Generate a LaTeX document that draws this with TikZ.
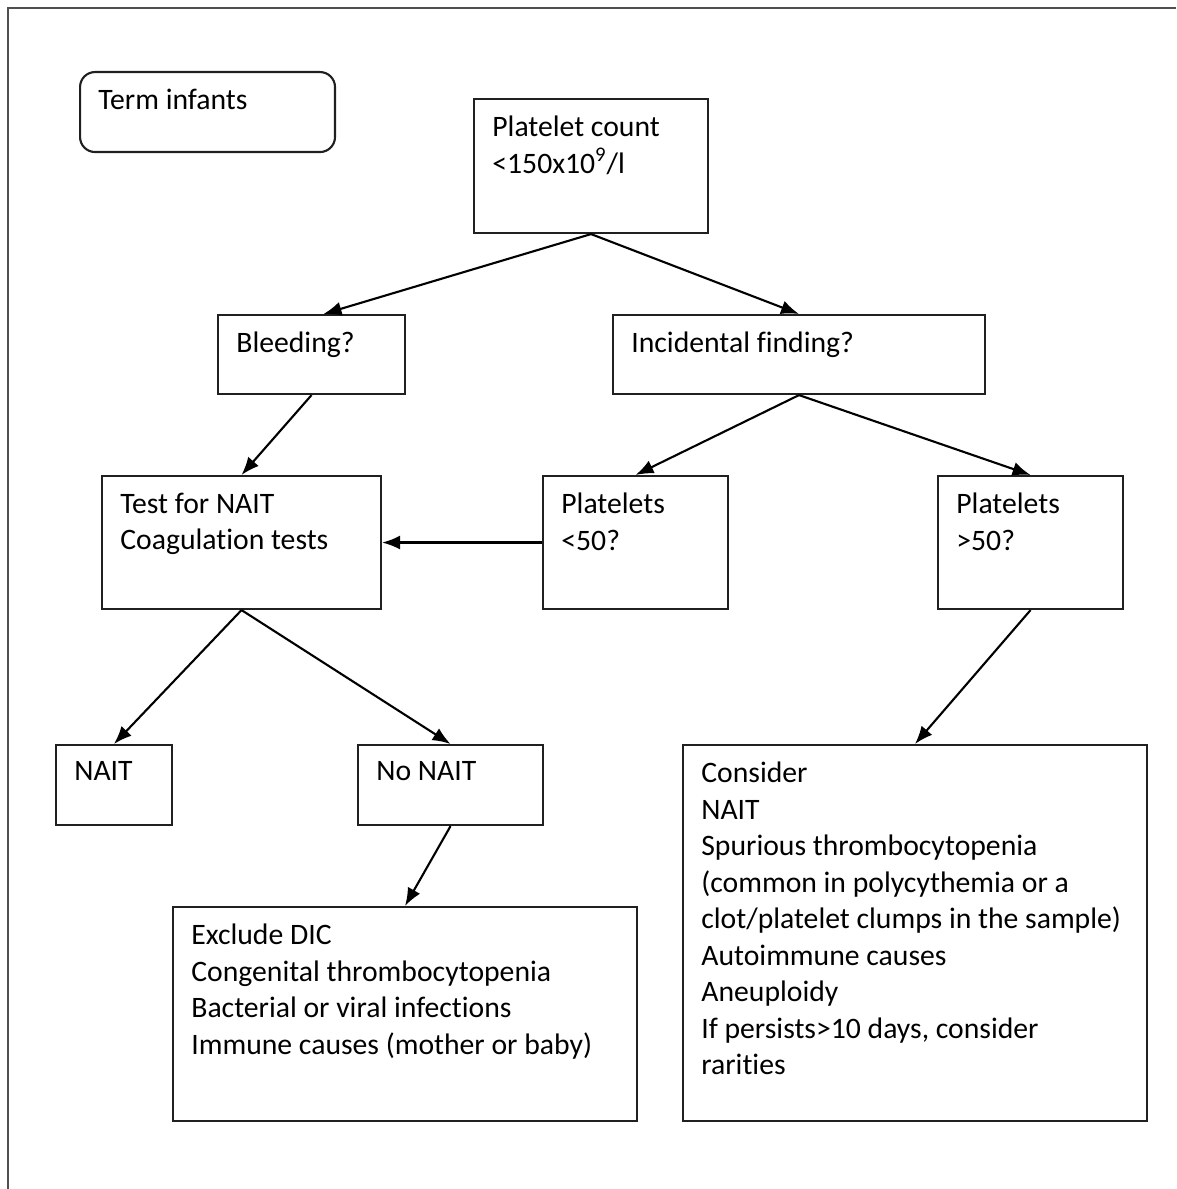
\documentclass[tikz,border=0pt]{standalone}
\usepackage{fontspec}
\setmainfont{Carlito}[Ligatures=CommonOff]
\usetikzlibrary{positioning}
\usetikzlibrary{arrows.meta}
\usetikzlibrary{calc}
\definecolor{framegray}{HTML}{505050}
\definecolor{linegray}{HTML}{202020}
\tikzset{flowbox/.style = {draw=linegray, rectangle, anchor=north west, inner sep=0pt, line width=1.2pt}}
\tikzset{boxtext/.style = {anchor=north west, align=left, inner sep=0pt,
                           xshift=0.38cm, yshift=-0.35cm,
                           font=\fontsize{16.9}{20.8}\selectfont}}
\tikzset{flowarrow/.style = {-{Latex[length=3.6mm,width=2.8mm]}, line width=1.2pt}}

\begin{document}
\begin{tikzpicture}[x=0.02cm, y=-0.02cm]
        \useasboundingbox (0,0) rectangle (1176,1189);
        \draw[line width=1.6pt, framegray] (1176,8) -- (8,8) -- (8,1189);
        % boxes
        \node[flowbox, rounded corners=0.3cm, minimum width=5.10cm, minimum height=1.60cm] (term) at (79,71) {};
        \node[flowbox, minimum width=4.68cm, minimum height=2.68cm] (plt) at (473,98) {};
        \node[flowbox, minimum width=3.74cm, minimum height=1.58cm] (bleed) at (217,314) {};
        \node[flowbox, minimum width=7.44cm, minimum height=1.58cm] (incid) at (612,314) {};
        \node[flowbox, minimum width=5.58cm, minimum height=2.66cm] (test) at (101,475) {};
        \node[flowbox, minimum width=3.70cm, minimum height=2.66cm] (lt50) at (542,475) {};
        \node[flowbox, minimum width=3.70cm, minimum height=2.66cm] (gt50) at (937,475) {};
        \node[flowbox, minimum width=2.32cm, minimum height=1.60cm] (nait) at (55,744) {};
        \node[flowbox, minimum width=3.70cm, minimum height=1.60cm] (nonait) at (357,744) {};
        \node[flowbox, minimum width=9.28cm, minimum height=4.28cm] (excl) at (172,906) {};
        \node[flowbox, minimum width=9.28cm, minimum height=7.52cm] (consid) at (682,744) {};
        % texts
        \node[boxtext] (termT) at (term.north west) {Term infants};
        \node[boxtext] (pltT) at (plt.north west) {Platelet count\\<150x10\textsuperscript{9}/l};
        \node[boxtext] (bleedT) at (bleed.north west) {Bleeding?};
        \node[boxtext] (incidT) at (incid.north west) {Incidental finding?};
        \node[boxtext] (testT) at (test.north west) {Test for NAIT\\Coagulation tests};
        \node[boxtext] (lt50T) at (lt50.north west) {Platelets\\<50?};
        \node[boxtext] (gt50T) at (gt50.north west) {Platelets\\>50?};
        \node[boxtext] (naitT) at (nait.north west) {NAIT};
        \node[boxtext] (nonaitT) at (nonait.north west) {No NAIT};
        \node[boxtext] (exclT) at (excl.north west) {Exclude DIC\\Congenital thrombocytopenia\\Bacterial or viral infections\\Immune causes (mother or baby)};
        \node[boxtext] (considT) at (consid.north west) {Consider\\NAIT\\Spurious thrombocytopenia\\(common in polycythemia or a\\clot/platelet clumps in the sample)\\Autoimmune causes\\Aneuploidy\\If persists>10 days, consider\\rarities};
        % arrows
        \draw[flowarrow] (plt.south) -- ($(bleed.north)+(12,0)$);
        \draw[flowarrow] (plt.south) -- (incid.north);
        \draw[flowarrow] (bleed.south) -- (test.north);
        \draw[flowarrow] (incid.south) -- (lt50.north);
        \draw[flowarrow] (incid.south) -- (gt50.north);
        \draw[flowarrow] (lt50.west) -- (test.east);
        \draw[flowarrow] (test.south) -- (nait.north);
        \draw[flowarrow] (test.south) -- (nonait.north);
        \draw[flowarrow] (nonait.south) -- (excl.north);
        \draw[flowarrow] (gt50.south) -- (consid.north);
\end{tikzpicture}
\end{document}
